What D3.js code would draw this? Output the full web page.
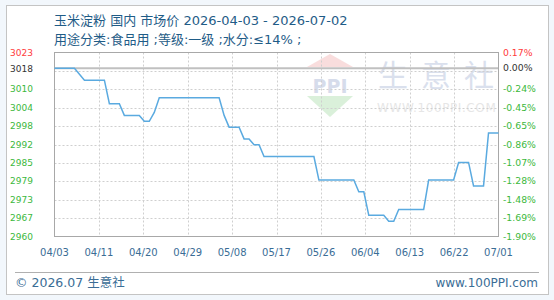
<!DOCTYPE html>
<html>
<head>
<meta charset="utf-8">
<script src="https://cdn.jsdelivr.net/npm/d3@7"></script>
<style>
body { margin: 0; background: #f2f7fc; }
text { font-family: "DejaVu Sans", "Noto Sans CJK SC", sans-serif; }
</style>
</head>
<body>
<div id="chart"></div>
<script>
// chart data
var startDate = "2026-04-03";
var prices = [
	3018, 3018, 3018, 3018, 3018, 3016, 3014, 3014, 3014, 3014,
	3014, 3006, 3006, 3006, 3002, 3002, 3002, 3002, 3000, 3000,
	3003, 3008, 3008, 3008, 3008, 3008, 3008, 3008, 3008, 3008,
	3008, 3008, 3008, 3008, 3002, 2998, 2998, 2998, 2994, 2994,
	2992, 2992, 2988, 2988, 2988, 2988, 2988, 2988, 2988, 2988,
	2988, 2988, 2988, 2980, 2980, 2980, 2980, 2980, 2980, 2980,
	2980, 2976, 2976, 2968, 2968, 2968, 2968, 2966, 2966, 2970,
	2970, 2970, 2970, 2970, 2970, 2980, 2980, 2980, 2980, 2980,
	2980, 2986, 2986, 2986, 2978, 2978, 2978, 2996, 2996, 2996
];
var basePrice = 3018;
var yGridValues = [2967.1, 2973.3, 2979.6, 2985.8, 2992.1, 2998.4, 3004.6, 3010.9, 3017.1];
var yLabelValues = [2960.8, 2967.1, 2973.3, 2979.6, 2985.8, 2992.1, 2998.4, 3004.6, 3010.9, 3023.4];
var yLeftLabels = ["2960", "2967", "2973", "2979", "2985", "2992", "2998", "3004", "3010", "3023"];
var yRightLabels = ["-1.90%", "-1.69%", "-1.48%", "-1.28%", "-1.07%", "-0.86%", "-0.65%", "-0.45%", "-0.24%", "0.17%"];
var xTickLabels = ["04/03", "04/11", "04/20", "04/29", "05/08", "05/17", "05/26", "06/04", "06/13", "06/22", "07/01"];
var titleLines = ["玉米淀粉 国内 市场价 2026-04-03 - 2026-07-02", "用途分类:食品用 ;等级:一级 ;水分:≤14% ;"];

var W = 554, H = 300;
var plot = { left: 54.5, right: 498.5, top: 52.5, bottom: 236.5 };

var parseDate = d3.timeParse("%Y-%m-%d");
var t0 = parseDate(startDate);
var data = prices.map(function(p, i) { return { date: d3.timeDay.offset(t0, i), value: p }; });

var x = d3.scaleTime()
	.domain(d3.extent(data, function(d) { return d.date; }))
	.range([plot.left, plot.right]);
var y = d3.scaleLinear()
	.domain([yLabelValues[0], yLabelValues[yLabelValues.length - 1]])
	.range([plot.bottom, plot.top]);

var svg = d3.select("#chart").append("svg")
	.attr("width", W)
	.attr("height", H);

// panel
svg.append("rect")
	.attr("x", 6.5).attr("y", 5.5)
	.attr("width", 542).attr("height", 289)
	.attr("fill", "#fff")
	.attr("stroke", "#c4c4c4");

// title
svg.selectAll(".title").data(titleLines).enter().append("text")
	.attr("x", 54)
	.attr("y", function(d, i) { return 25 + i * 19; })
	.attr("font-size", 13)
	.attr("fill", "#1f5c87")
	.text(function(d) { return d; });

// watermark
var wm = svg.append("g").attr("opacity", 0.42);
wm.append("path").attr("d", "M330,54 L353,67 L307,67 Z").attr("fill", "#f2b0b0");
wm.append("text").attr("x", 330).attr("y", 93).attr("text-anchor", "middle")
	.attr("font-size", 19).attr("font-weight", "bold").attr("fill", "#a0aed0").text("PPI");
wm.append("path").attr("d", "M307,96 L353,96 L330,117 Z").attr("fill", "#a8dca8");
wm.append("text").attr("x", 378).attr("y", 86).attr("font-size", 30)
	.attr("letter-spacing", 13).attr("fill", "#a8b6d6").text("生意社");
wm.append("text").attr("x", 377).attr("y", 112).attr("font-size", 12)
	.attr("letter-spacing", 0.6).attr("fill", "#c4c4c4").text("WWW.100PPI.COM");

// grid
var grid = svg.append("g");
grid.selectAll(".hgrid").data(yGridValues).enter().append("line")
	.attr("x1", plot.left).attr("x2", plot.right)
	.attr("y1", function(d) { return Math.round(y(d)) + 0.5; })
	.attr("y2", function(d) { return Math.round(y(d)) + 0.5; })
	.attr("stroke", "#cfcfcf")
	.attr("stroke-dasharray", "2,2");

var xTicks = xTickLabels.map(function(l, i) {
	return { label: l, pos: plot.left + (plot.right - plot.left) * i / (xTickLabels.length - 1) };
});
grid.selectAll(".vgrid").data(xTicks.slice(1, -1)).enter().append("line")
	.attr("x1", function(d) { return Math.round(d.pos) + 0.5; })
	.attr("x2", function(d) { return Math.round(d.pos) + 0.5; })
	.attr("y1", plot.top).attr("y2", plot.bottom)
	.attr("stroke", "#cfcfcf")
	.attr("stroke-dasharray", "2,2");

// base line
svg.append("line")
	.attr("x1", plot.left).attr("x2", plot.right)
	.attr("y1", y(basePrice)).attr("y2", y(basePrice))
	.attr("stroke", "#c0c0c0")
	.attr("stroke-width", 2);

// frame
svg.append("rect")
	.attr("x", plot.left).attr("y", plot.top)
	.attr("width", plot.right - plot.left)
	.attr("height", plot.bottom - plot.top)
	.attr("fill", "none")
	.attr("stroke", "#a8a8a8");

// price line
var line = d3.line()
	.x(function(d) { return x(d.date); })
	.y(function(d) { return y(d.value); });
svg.append("path")
	.datum(data)
	.attr("d", line)
	.attr("fill", "none")
	.attr("stroke", "#5aaae0")
	.attr("stroke-width", 1.5);

// y labels
function labelColor(v) {
	return v > basePrice ? "#ff3b3b" : "#3cb83c";
}
var leftAxis = svg.append("g");
leftAxis.selectAll("text").data(yLabelValues).enter().append("text")
	.attr("x", 10)
	.attr("y", function(d) { return y(d); })
	.attr("dy", "0.35em")
	.attr("font-size", 9)
	.attr("fill", labelColor)
	.text(function(d, i) { return yLeftLabels[i]; });
leftAxis.append("text")
	.attr("x", 10).attr("y", y(basePrice)).attr("dy", "0.35em")
	.attr("font-size", 9).attr("fill", "#333")
	.text(basePrice);

var rightAxis = svg.append("g");
rightAxis.selectAll("text").data(yLabelValues).enter().append("text")
	.attr("x", 503)
	.attr("y", function(d) { return y(d); })
	.attr("dy", "0.35em")
	.attr("font-family", "DejaVu Sans Mono, monospace")
	.attr("font-size", 9.3)
	.attr("fill", labelColor)
	.text(function(d, i) { return yRightLabels[i]; });
rightAxis.append("text")
	.attr("x", 503).attr("y", y(basePrice) - 1).attr("dy", "0.35em")
	.attr("font-family", "DejaVu Sans Mono, monospace")
	.attr("font-size", 9.3).attr("fill", "#333")
	.text("0.00%");

// x labels
svg.append("g").selectAll("text").data(xTicks).enter().append("text")
	.attr("x", function(d) { return d.pos; })
	.attr("y", 256)
	.attr("text-anchor", "middle")
	.attr("font-size", 10)
	.attr("fill", "#3a6d96")
	.text(function(d) { return d.label; });

// footer
svg.append("line")
	.attr("x1", 15).attr("x2", 539)
	.attr("y1", 272.5).attr("y2", 272.5)
	.attr("stroke", "#b0b0b0");
svg.append("text")
	.attr("x", 15).attr("y", 287)
	.attr("font-size", 12.5)
	.attr("fill", "#3a6d96")
	.text("© 2026.07 生意社");
svg.append("text")
	.attr("x", 538).attr("y", 287)
	.attr("text-anchor", "end")
	.attr("font-size", 12)
	.attr("fill", "#3a6d96")
	.text("www.100PPI.com");
</script>
</body>
</html>
